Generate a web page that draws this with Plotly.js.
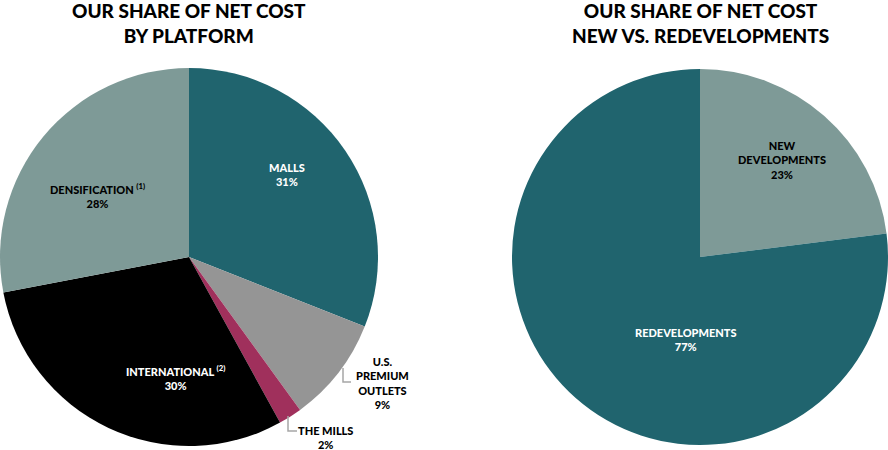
<!DOCTYPE html>
<html>
<head>
<meta charset="utf-8">
<script src="https://cdn.plot.ly/plotly-3.0.1.min.js"></script>
<style>html,body{margin:0;padding:0;background:#fff;}#chart{width:888px;height:450px;}</style>
</head>
<body>
<div id="chart"></div>
<script>
// Data
const platformLabels = ["Malls", "U.S. Premium Outlets", "The Mills", "International", "Densification"];
const platformValues = [31, 9, 2, 30, 28];
const platformNotes = ["", "", "", "(2)", "(1)"];
const typeLabels = ["New Developments", "Redevelopments"];
const typeValues = [23, 77];
const titles = ["OUR SHARE OF NET COST<br>BY PLATFORM", "OUR SHARE OF NET COST<br>NEW VS. REDEVELOPMENTS"];

// Styles
const TEAL = "#20646e", SAGE = "#7e9a97", GRAY = "#959595", MAROON = "#a0305c", BLACK = "#000000";
const platformColors = [TEAL, GRAY, MAROON, BLACK, SAGE];
const typeColors = [SAGE, TEAL];
const FONT = "Lato, 'Open Sans', sans-serif";

const W = 888, H = 450;
const px = x => x / W, py = y => 1 - y / H;

const traces = [
  {
    type: "pie", labels: platformLabels, values: platformValues, sort: false,
    direction: "clockwise", rotation: 0, textinfo: "none", hoverinfo: "skip",
    marker: {colors: platformColors, line: {width: 0}},
    domain: {x: [0, px(378)], y: [py(446), py(68)]}
  },
  {
    type: "pie", labels: typeLabels, values: typeValues, sort: false,
    direction: "clockwise", rotation: 0, textinfo: "none", hoverinfo: "skip",
    marker: {colors: typeColors, line: {width: 0}},
    domain: {x: [px(512), 1], y: [py(446), py(68)]}
  }
];

function lbl(i, labels, values, notes) {
  const n = notes && notes[i] ? " <sup>" + notes[i] + "</sup>" : "";
  return labels[i].toUpperCase() + n + "<br>" + values[i] + "%";
}

const lf = (c) => ({family: FONT, size: 11, color: c, weight: 900});

const annotations = [
  {text: titles[0], x: px(189), y: py(23), font: {family: FONT, size: 19, color: "#000", weight: 900}},
  {text: titles[1], x: px(700), y: py(23), font: {family: FONT, size: 19, color: "#000", weight: 900}},
  {text: lbl(0, platformLabels, platformValues, platformNotes), x: px(287), y: py(175), font: lf("#fff")},
  {text: "U.S.<br>PREMIUM<br>OUTLETS<br>" + platformValues[1] + "%", x: px(382), y: py(383), font: lf("#000")},
  {text: lbl(2, platformLabels, platformValues, platformNotes), x: px(325), y: py(437), font: lf("#000")},
  {text: lbl(3, platformLabels, platformValues, platformNotes), x: px(175), y: py(377), font: lf("#fff")},
  {text: lbl(4, platformLabels, platformValues, platformNotes), x: px(97), y: py(195), font: lf("#000")},
  {text: "NEW<br>DEVELOPMENTS<br>" + typeValues[0] + "%", x: px(782), y: py(160), font: lf("#000")},
  {text: lbl(1, typeLabels, typeValues), x: px(686), y: py(339), font: lf("#fff")}
].map(a => Object.assign({xref: "paper", yref: "paper", showarrow: false, xanchor: "center", yanchor: "middle", align: "center"}, a));

const lineStyle = {color: "#a6a6a6", width: 1.5};
const shapes = [
  {type: "path", path: `M ${px(343)} ${py(368)} L ${px(343)} ${py(382)} L ${px(351)} ${py(382)}`},
  {type: "path", path: `M ${px(288)} ${py(416)} L ${px(288)} ${py(431)} L ${px(297)} ${py(431)}`}
].map(s => Object.assign({xref: "paper", yref: "paper", line: lineStyle}, s));

const layout = {
  width: W, height: H, margin: {l: 0, r: 0, t: 0, b: 0},
  paper_bgcolor: "#fff", plot_bgcolor: "#fff", showlegend: false,
  annotations, shapes, hovermode: false
};

Plotly.newPlot("chart", traces, layout, {staticPlot: true, displayModeBar: false});
</script>
</body>
</html>
